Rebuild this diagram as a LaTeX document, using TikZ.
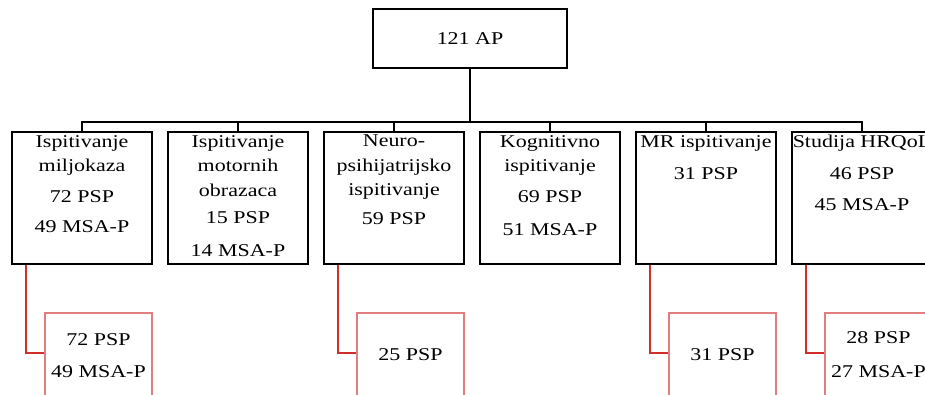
\documentclass[tikz,border=0pt]{standalone}
\usepackage{fontspec}
\setmainfont[FakeStretch=1.22]{Liberation Serif}
\definecolor{linkred}{RGB}{210,45,45}
\definecolor{boxred}{RGB}{225,125,125}
\tikzset{
  box/.style={draw, line width=1.3pt, minimum width=140pt, minimum height=132pt, inner sep=0pt},
  subbox/.style={draw=boxred, line width=1.3pt, minimum width=107pt, minimum height=107pt, inner sep=0pt},
  title/.style={anchor=north, align=center, inner sep=0pt, font=\fontsize{18}{24.5}\selectfont},
  count/.style={anchor=base, inner sep=0pt},
  link/.style={draw=linkred, line width=1.3pt},
  tree/.style={draw, line width=1.3pt}
}
\begin{document}
\begin{tikzpicture}[x=1pt, y=-1pt, font=\fontsize{18}{22}\selectfont]
  \clip (0,0) rectangle (925,395);

  % Root
  \node[box, minimum width=194pt, minimum height=59pt] (ap) at (470,38.5) {121 AP};
  \coordinate (bar) at (470,122);

  % Study boxes
  \node[box] (b1) at (82,198) {};
  \node[box] (b2) at (238,198) {};
  \node[box] (b3) at (394,198) {};
  \node[box] (b4) at (550,198) {};
  \node[box] (b5) at (706,198) {};
  \node[box] (b6) at (862,198) {};

  \node[title] (t1) at (82,135) {Ispitivanje\\miljokaza};
  \node[title] (t2) at (238,135) {Ispitivanje\\motornih\\obrazaca};
  \node[title] (t3) at (394,135) {Neuro-\\psihijatrijsko\\ispitivanje};
  \node[title] (t4) at (550,135) {Kognitivno\\ispitivanje};
  \node[title] (t5) at (706,135) {MR ispitivanje};
  \node[title] (t6) at (862,135) {Studija HRQoL};

  \node[count] (p1) at (82,203) {72 PSP};
  \node[count] (m1) at (82,233) {49 MSA-P};
  \node[count] (p2) at (238,224) {15 PSP};
  \node[count] (m2) at (238,256) {14 MSA-P};
  \node[count] (p3) at (394,225) {59 PSP};
  \node[count] (p4) at (550,203) {69 PSP};
  \node[count] (m4) at (550,235) {51 MSA-P};
  \node[count] (p5) at (706,180) {31 PSP};
  \node[count] (p6) at (862,180) {46 PSP};
  \node[count] (m6) at (862,211) {45 MSA-P};

  % Tree lines
  \draw[tree] (ap.south) -- (bar);
  \draw[tree] (b1.north) |- (bar);
  \draw[tree] (b2.north) |- (bar);
  \draw[tree] (b3.north) |- (bar);
  \draw[tree] (b4.north) |- (bar);
  \draw[tree] (b5.north) |- (bar);
  \draw[tree] (b6.north) |- (bar);

  % Subsets
  \node[subbox] (r1) at (98.5,366.5) {};
  \node[subbox] (r3) at (410.5,366.5) {};
  \node[subbox] (r5) at (722.5,366.5) {};
  \node[subbox] (r6) at (878.5,366.5) {};

  \node[count] (q1) at (98.5,345) {72 PSP};
  \node[count] (s1) at (98.5,377) {49 MSA-P};
  \node[count] (q3) at (410.5,360) {25 PSP};
  \node[count] (q5) at (722.5,360) {31 PSP};
  \node[count] (q6) at (878.5,343) {28 PSP};
  \node[count] (s6) at (878.5,377) {27 MSA-P};

  \coordinate (k1) at (26,353);
  \coordinate (k3) at (338,353);
  \coordinate (k5) at (650,353);
  \coordinate (k6) at (806,353);
  \draw[link] (b1.south -| k1) |- (r1.west |- k1);
  \draw[link] (b3.south -| k3) |- (r3.west |- k3);
  \draw[link] (b5.south -| k5) |- (r5.west |- k5);
  \draw[link] (b6.south -| k6) |- (r6.west |- k6);
\end{tikzpicture}
\end{document}
